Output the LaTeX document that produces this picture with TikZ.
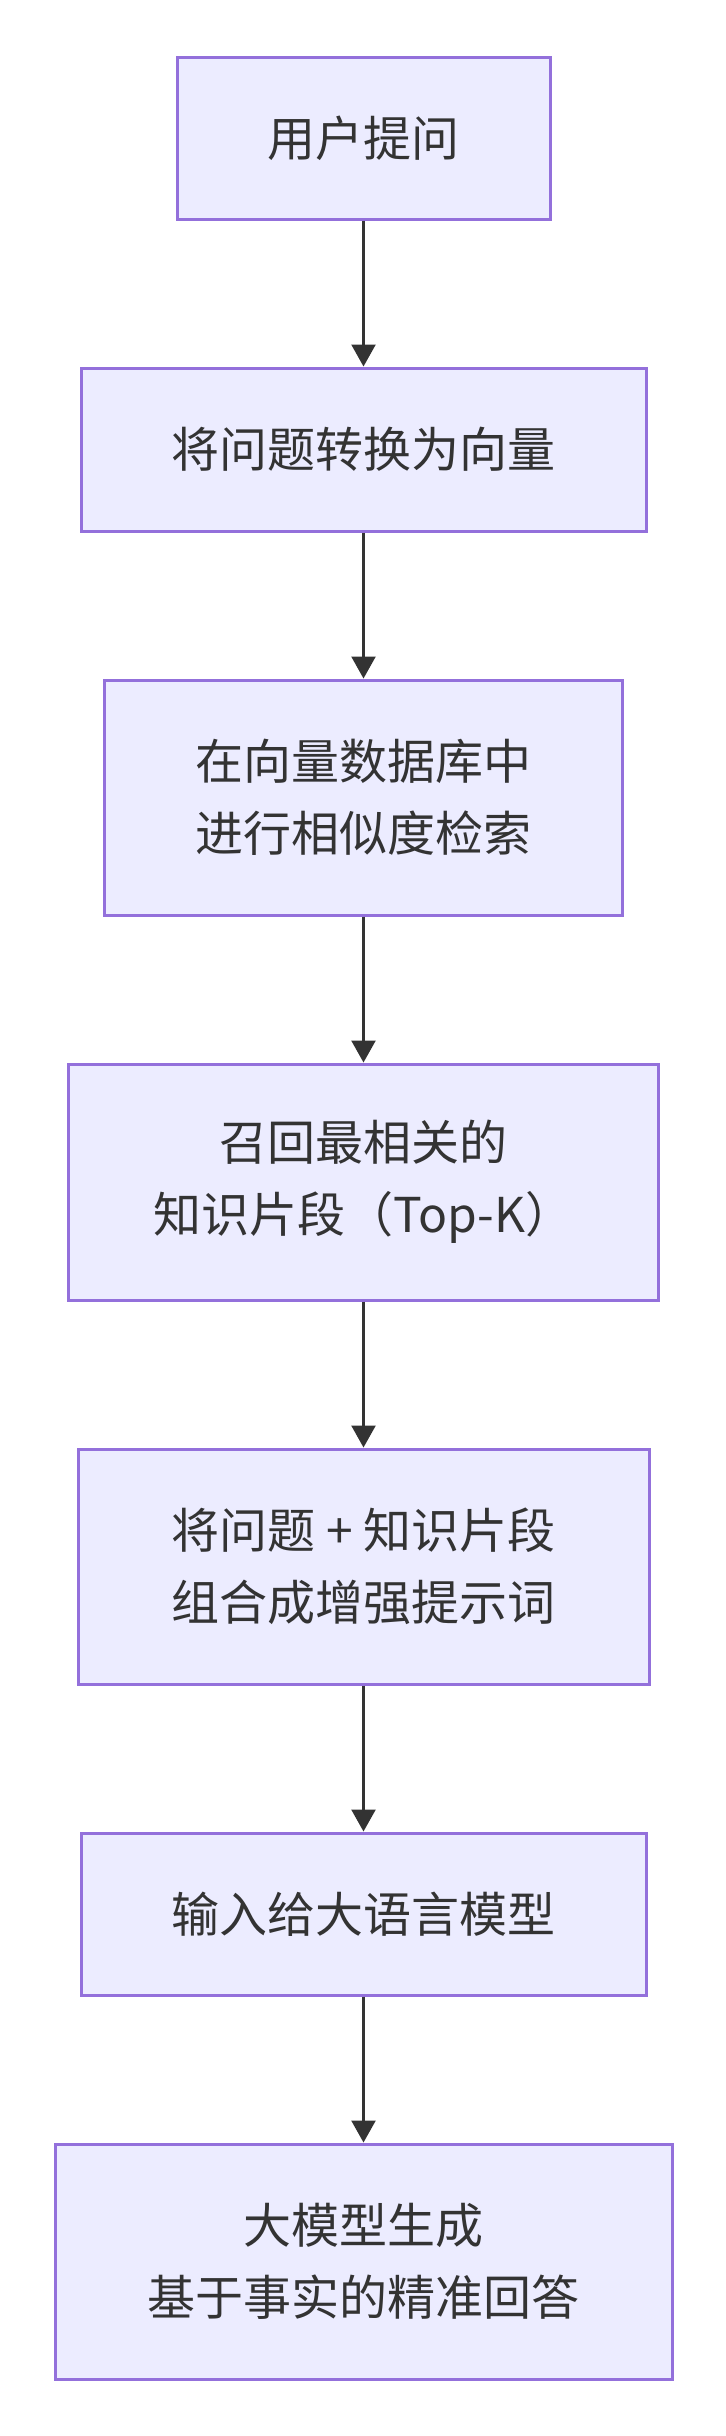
\documentclass[tikz,border=0pt]{standalone}
\usepackage{fontspec}
\setmainfont{Noto Sans CJK SC}
\usetikzlibrary{arrows.meta}
\definecolor{boxfill}{HTML}{ECECFF}
\definecolor{boxdraw}{HTML}{9370DB}
\definecolor{ink}{HTML}{333333}
\tikzset{
  stepbox/.style={rectangle, draw=boxdraw, fill=boxfill, line width=1.5pt, inner sep=0pt,
    align=center, text=ink, font=\fontsize{24}{36}\selectfont},
  flow/.style={draw=ink, line width=1.2pt, -{Triangle[length=11pt,width=12pt]}}
}
\begin{document}
\begin{tikzpicture}[x=0.5pt,y=-0.5pt]
\useasboundingbox[fill=white] (0,0) rectangle (726,2436);
\node[stepbox, minimum width=186.5pt, minimum height=81pt] (b1) at (363.5,138) {用户提问};
\node[stepbox, minimum width=282.5pt, minimum height=81.5pt] (b2) at (363.5,449.5) {将问题转换为向量};
\node[stepbox, minimum width=259pt, minimum height=117.5pt] (b3) at (363.5,797.5) {在向量数据库中\\进行相似度检索};
\node[stepbox, minimum width=295pt, minimum height=118pt] (b4) at (363.5,1182) {召回最相关的\\知识片段（Top-K）};
\node[stepbox, minimum width=285.5pt, minimum height=117.5pt] (b5) at (363.5,1566.5) {将问题 + 知识片段\\组合成增强提示词};
\node[stepbox, minimum width=282.5pt, minimum height=81pt] (b6) at (363.5,1914) {输入给大语言模型};
\node[stepbox, minimum width=308.5pt, minimum height=117.5pt] (b7) at (363.5,2261.5) {大模型生成\\基于事实的精准回答};
\draw[flow] (b1) -- (b2);
\draw[flow] (b2) -- (b3);
\draw[flow] (b3) -- (b4);
\draw[flow] (b4) -- (b5);
\draw[flow] (b5) -- (b6);
\draw[flow] (b6) -- (b7);
\end{tikzpicture}
\end{document}
